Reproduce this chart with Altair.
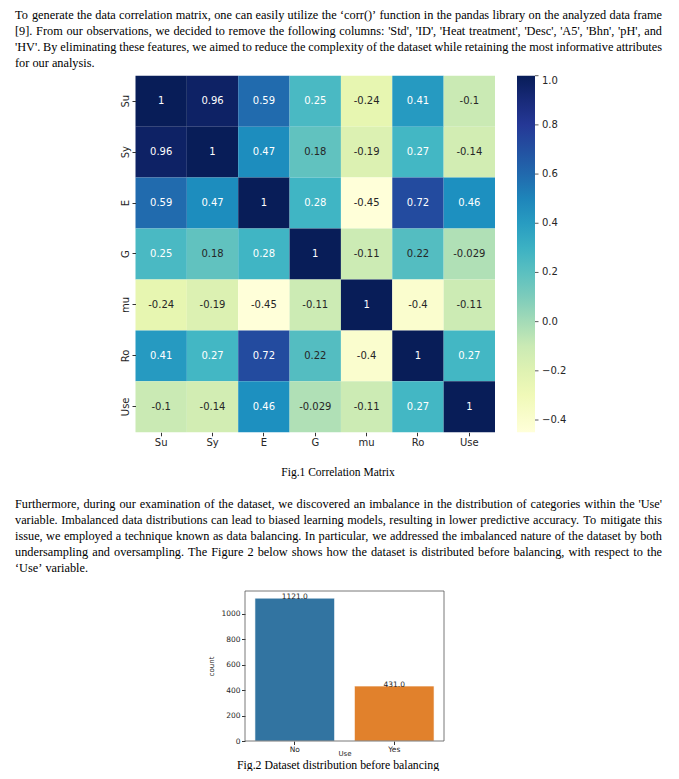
import altair as alt
import pandas as pd

# ---------------- text content ----------------
para1 = [
    "To generate the data correlation matrix, one can easily utilize the \u2018corr()\u2019 function in the pandas library on the analyzed data frame",
    "[9]. From our observations, we decided to remove the following columns: 'Std', 'ID', 'Heat treatment', 'Desc', 'A5', 'Bhn', 'pH', and",
    "'HV'. By eliminating these features, we aimed to reduce the complexity of the dataset while retaining the most informative attributes",
    "for our analysis.",
]
para2 = [
    "Furthermore, during our examination of the dataset, we discovered an imbalance in the distribution of categories within the 'Use'",
    "variable. Imbalanced data distributions can lead to biased learning models, resulting in lower predictive accuracy. To mitigate this",
    "issue, we employed a technique known as data balancing. In particular, we addressed the imbalanced nature of the dataset by both",
    "undersampling and oversampling. The Figure 2 below shows how the dataset is distributed before balancing, with respect to the",
    "\u2018Use\u2019 variable.",
]
caption1 = "Fig.1 Correlation Matrix"
caption2 = "Fig.2 Dataset distribution before balancing"

# ---------------- correlation matrix ----------------
features = ["Su", "Sy", "E", "G", "mu", "Ro", "Use"]
corr_su = [1, 0.96, 0.59, 0.25, -0.24, 0.41, -0.1]
corr_sy = [0.96, 1, 0.47, 0.18, -0.19, 0.27, -0.14]
corr_e = [0.59, 0.47, 1, 0.28, -0.45, 0.72, 0.46]
corr_g = [0.25, 0.18, 0.28, 1, -0.11, 0.22, -0.029]
corr_mu = [-0.24, -0.19, -0.45, -0.11, 1, -0.4, -0.11]
corr_ro = [0.41, 0.27, 0.72, 0.22, -0.4, 1, 0.27]
corr_use = [-0.1, -0.14, 0.46, -0.029, -0.11, 0.27, 1]
colorbar_ticks = [-0.4, -0.2, 0.0, 0.2, 0.4, 0.6, 0.8, 1.0]

# matplotlib / ColorBrewer YlGnBu stops, spread evenly over [-0.45, 1]
ylgnbu = ["#ffffd9", "#edf8b1", "#c7e9b4", "#7fcdbb", "#41b6c4",
          "#1d91c0", "#225ea8", "#253494", "#081d58"]
ylgnbu_stops = [-0.45, -0.26875, -0.0875, 0.09375, 0.275, 0.45625, 0.6375, 0.81875, 1.0]

# ---------------- class balance ----------------
use_cats = ["No", "Yes"]
use_counts = [1121, 431]
bar_colors = ["#3274a1", "#e1812c"]
count_ticks = [0, 200, 400, 600, 800, 1000]

# ---------------- helpers ----------------
TIMES = {
    'a': 444, 'b': 500, 'c': 444, 'd': 500, 'e': 444, 'f': 333, 'g': 500, 'h': 500,
    'i': 278, 'j': 278, 'k': 500, 'l': 278, 'm': 778, 'n': 500, 'o': 500, 'p': 500,
    'q': 500, 'r': 333, 's': 389, 't': 278, 'u': 500, 'v': 500, 'w': 722, 'x': 500,
    'y': 500, 'z': 444, 'A': 722, 'B': 667, 'C': 667, 'D': 722, 'E': 611, 'F': 556,
    'G': 722, 'H': 722, 'I': 333, 'J': 389, 'K': 722, 'L': 611, 'M': 889, 'N': 722,
    'O': 722, 'P': 556, 'Q': 722, 'R': 667, 'S': 556, 'T': 611, 'U': 722, 'V': 722,
    'W': 944, 'X': 722, 'Y': 722, 'Z': 611, ' ': 250, ',': 250, '.': 250, "'": 180,
    '\u2018': 333, '\u2019': 333, '(': 333, ')': 333, '[': 333, ']': 333, ':': 278,
    '-': 333,
}


def text_width(s, fs):
    return sum(TIMES.get(ch, 500) for ch in s) * fs / 1000.0


def layout_paragraph(lines, top, fs, left, right, lead):
    rows = []
    for i, line in enumerate(lines):
        words = line.split(" ")
        widths = [text_width(w, fs) for w in words]
        space = text_width(" ", fs)
        if i == len(lines) - 1 or len(words) < 2:
            gap = space
        else:
            gap = max(space * 0.6, (right - left - sum(widths)) / (len(words) - 1))
        x = left
        for w, wd in zip(words, widths):
            rows.append({"word": w, "px": x, "py": top + i * lead})
            x += wd + gap
    return pd.DataFrame(rows)


FS = 12.3
p1 = layout_paragraph(para1, 6.5, FS, 7, 654, 16.2)
p2 = layout_paragraph(para2, 495.5, FS, 7, 654, 16)

serif = "Liberation Serif"
sans = "DejaVu Sans"


def para_layer(df):
    return alt.Chart(df).mark_text(
        align="left", baseline="middle", font=serif, fontSize=FS, color="#000000"
    ).encode(
        x=alt.X("px:Q", scale=None),
        y=alt.Y("py:Q", scale=None),
        text="word:N",
    )


def caption_layer(txt, x, y, fs):
    return alt.Chart(pd.DataFrame({"t": [txt]})).mark_text(
        align="center", baseline="middle", font=serif, fontSize=fs, color="#000000"
    ).encode(x=alt.value(x), y=alt.value(y), text="t:N")


# ---------------- heatmap ----------------
rows = [corr_su, corr_sy, corr_e, corr_g, corr_mu, corr_ro, corr_use]
hm = pd.DataFrame(
    [
        {"row": features[i], "col": features[j], "v": v, "label": f"{v:g}"}
        for i, r in enumerate(rows)
        for j, v in enumerate(r)
    ]
)

hx = alt.X(
    "col:N", sort=features,
    scale=alt.Scale(range=[127.5, 487], paddingInner=0, paddingOuter=0),
    axis=alt.Axis(orient="bottom", offset=-338.7, title=None, domain=False, labelAngle=0,
                  tickSize=3.5, tickColor="#333333", labelFont=sans, labelFontSize=10,
                  labelColor="#262626", labelPadding=2),
)
hy = alt.Y(
    "row:N", sort=features,
    scale=alt.Scale(range=[67.7, 424.3], paddingInner=0, paddingOuter=0),
    axis=alt.Axis(orient="left", offset=-127.5, title=None, domain=False, labelAngle=270,
                  tickSize=3.5, tickColor="#333333", labelFont=sans, labelFontSize=10,
                  labelColor="#262626", labelPadding=2),
)

heat_rect = alt.Chart(hm).mark_rect(strokeWidth=0).encode(
    x=hx, y=hy,
    color=alt.Color(
        "v:Q",
        scale=alt.Scale(domain=ylgnbu_stops, range=ylgnbu, interpolate="rgb"),
        legend=alt.Legend(
            orient="none", legendX=509, legendY=67.7, direction="vertical",
            gradientLength=356.6, gradientThickness=18, title=None,
            values=colorbar_ticks, format=".1f", labelFont=sans, labelFontSize=10,
            labelColor="#262626", labelOffset=7, labelOverlap=False,
            labelBaseline="middle", padding=0, gradientStrokeWidth=0,
        ),
    ),
)
heat_text = alt.Chart(hm).mark_text(font=sans, fontSize=10).encode(
    x=hx, y=hy, text="label:N",
    color=alt.condition("datum.v > 0.235", alt.value("#ffffff"), alt.value("#262626")),
)
heat = alt.layer(heat_rect, heat_text)

# small tick marks on the colour bar
cbar_ticks = alt.Chart(pd.DataFrame({"t": colorbar_ticks})).mark_rule(
    color="#333333", strokeWidth=0.8
).encode(
    x=alt.value(527), x2=alt.value(530.5),
    y=alt.Y("t:Q", scale=alt.Scale(domain=[-0.45, 1], range=[424.3, 67.7], nice=False,
                                   zero=False), axis=None),
)

# ---------------- bar chart ----------------
bars_df = pd.DataFrame({"cat": use_cats, "count": use_counts})
bx = alt.X(
    "cat:N", sort=use_cats,
    scale=alt.Scale(range=[237, 436], paddingInner=0.2, paddingOuter=0.1),
    axis=alt.Axis(orient="bottom", offset=-30, title="Use", domain=False, labelAngle=0,
                  tickSize=3.5, tickColor="#333333", labelFont=sans, labelFontSize=7.5,
                  labelColor="#262626", labelPadding=0.5, titleFont=sans, titleFontSize=7,
                  titleFontWeight="normal", titleColor="#262626", titlePadding=-3),
)
by = alt.Y(
    "count:Q",
    scale=alt.Scale(domain=[0, 1177], range=[733, 583], nice=False),
    axis=alt.Axis(orient="left", offset=-237, title="count", domain=False, grid=False,
                  values=count_ticks, format="d", tickSize=3.5, tickColor="#333333",
                  labelFont=sans, labelFontSize=7.5, labelColor="#262626", labelPadding=1.5,
                  titleFont=sans, titleFontSize=7, titleFontWeight="normal",
                  titleColor="#262626", titlePadding=6),
)
bar_marks = alt.Chart(bars_df).mark_bar(stroke="#ffffff", strokeWidth=0.6).encode(
    x=bx, y=by,
    color=alt.Color("cat:N", scale=alt.Scale(domain=use_cats, range=bar_colors), legend=None),
)
bar_labels = alt.Chart(bars_df).mark_text(
    font=sans, fontSize=7.5, baseline="alphabetic", color="#262626", dy=0.5
).encode(x=bx, y=by, text=alt.Text("count:Q", format=".1f"))
frame = alt.Chart(pd.DataFrame({"k": [0]})).mark_rect(
    filled=False, stroke="#555555", strokeWidth=0.8
).encode(x=alt.value(237), x2=alt.value(436), y=alt.value(583), y2=alt.value(733))
bars = alt.layer(bar_marks, bar_labels)

chart = alt.layer(
    para_layer(p1),
    heat,
    cbar_ticks,
    caption_layer(caption1, 330, 465, 11.5),
    para_layer(p2),
    bars,
    frame,
    caption_layer(caption2, 330, 756.5, 11.8),
).resolve_scale(
    x="independent", y="independent", color="independent"
).properties(
    width=663, height=763, padding=0,
    autosize=alt.AutoSizeParams(type="none"),
    background="#ffffff",
).configure_view(stroke=None)

chart.save("out.html", embed_options={"renderer": "svg", "actions": False})
